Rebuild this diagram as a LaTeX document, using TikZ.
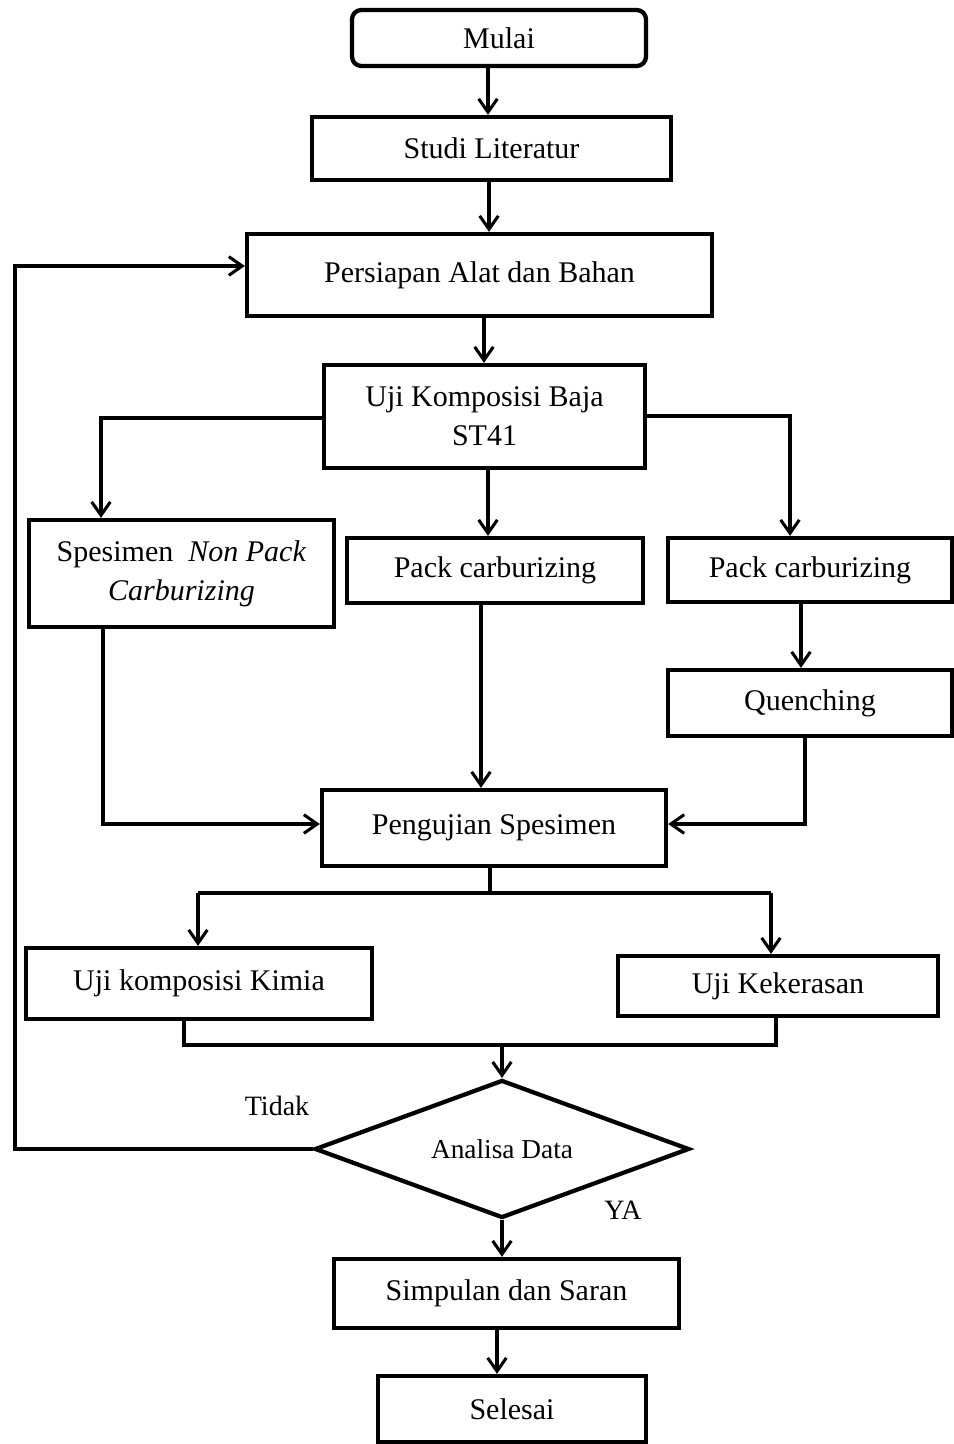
\documentclass[tikz,border=0pt]{standalone}
\usepackage{fontspec}
\setmainfont{Liberation Serif}
\usetikzlibrary{arrows.meta,shapes.geometric}
\begin{document}
\begin{tikzpicture}[x=0.75pt,y=-0.75pt,
 box/.style={draw,line width=3.2pt,rectangle,inner sep=0pt,font=\fontsize{22.5}{29}\selectfont,align=center},
 conn/.style={line width=2.3pt},
 arr/.style={conn,-{Straight Barb[length=10pt,width=14pt,line width=2.3pt]}},
 lbl/.style={font=\fontsize{21}{25}\selectfont,inner sep=0pt}
]
\useasboundingbox (0,0) rectangle (953,1444);
\fill[white] (0,0) rectangle (953,1444);

\node[box,rounded corners=7pt,minimum width=220.5pt,minimum height=42pt] (mulai) at (499,38) {Mulai};
\node[box,minimum width=269.25pt,minimum height=47.25pt] (studi) at (491.5,148.5) {Studi Literatur};
\node[box,minimum width=348.75pt,minimum height=61.5pt] (pers) at (479.5,275) {Persiapan Alat dan Bahan};
\node[box,minimum width=240.75pt,minimum height=77.25pt] (ujik) at (484.5,416.5) {Uji Komposisi Baja\\ST41};
\node[box,minimum width=228.75pt,minimum height=80.25pt] (spes) at (181.5,573.5) {Spesimen \ \textit{Non Pack}\\\textit{Carburizing}};
\node[box,minimum width=222pt,minimum height=48.75pt] (packm) at (495,570.5) {Pack carburizing};
\node[box,minimum width=213pt,minimum height=48pt] (packr) at (810,570) {Pack carburizing};
\node[box,minimum width=213pt,minimum height=49.5pt] (quen) at (810,703) {Quenching};
\node[box,minimum width=258pt,minimum height=57pt] (peng) at (494,828) {Pengujian Spesimen};
\node[box,minimum width=259.5pt,minimum height=53.25pt] (ukk) at (199,983.5) {Uji komposisi Kimia};
\node[box,minimum width=240pt,minimum height=45pt] (uk) at (778,986) {Uji Kekerasan};
\node[box,diamond,aspect=2.7,minimum width=281pt,minimum height=103.5pt,font=\fontsize{20.5}{25}\selectfont] (dia) at (502,1149) {Analisa Data};
\node[box,minimum width=258.75pt,minimum height=51.75pt] (simp) at (506.5,1293.5) {Simpulan dan Saran};
\node[box,minimum width=201pt,minimum height=49.5pt] (sel) at (512,1409) {Selesai};

\node[lbl] (tidak) at (277,1106) {Tidak};
\node[lbl] (ya) at (623,1210) {YA};

\coordinate (a1) at (488,0);
\coordinate (a2) at (489,0);
\coordinate (a3) at (484,0);
\coordinate (a5) at (488,0);
\coordinate (a7) at (801,0);
\coordinate (a8) at (481,0);
\coordinate (a15) at (497,0);
\coordinate (p1) at (101,418);
\coordinate (p2) at (790,416);
\coordinate (p3) at (103,824);
\coordinate (p4) at (805,824);
\coordinate (s0) at (490,893);
\coordinate (s1) at (198,893);
\coordinate (s2) at (771,893);
\coordinate (m1) at (184,1045);
\coordinate (m2) at (776,1045);
\coordinate (m0) at (502,1045);
\coordinate (f1) at (15,1149);
\coordinate (f2) at (15,266);

\draw[arr] (mulai.south -| a1) -- (studi.north -| a1);
\draw[arr] (studi.south -| a2) -- (pers.north -| a2);
\draw[arr] (pers.south -| a3) -- (ujik.north -| a3);
\draw[arr] (ujik.west |- p1) -- (p1) -- (spes.north -| p1);
\draw[arr] (ujik.south -| a5) -- (packm.north -| a5);
\draw[arr] (ujik.east |- p2) -- (p2) -- (packr.north -| p2);
\draw[arr] (packr.south -| a7) -- (quen.north -| a7);
\draw[arr] (packm.south -| a8) -- (peng.north -| a8);
\draw[arr] (spes.south -| p3) -- (p3) -- (peng.west |- p3);
\draw[arr] (quen.south -| p4) -- (p4) -- (peng.east |- p4);
\draw[conn] (peng.south -| s0) -- (s0);
\draw[conn] (s1) -- (s2);
\draw[arr] (s1) -- (ukk.north -| s1);
\draw[arr] (s2) -- (uk.north -| s2);
\draw[conn] (ukk.south -| m1) -- (m1) -- (m2) -- (uk.south -| m2);
\draw[arr] (m0) -- (dia.north);
\draw[arr] (dia.west) -- (f1) -- (f2) -- (pers.west |- f2);
\draw[arr] (dia.south) -- (simp.north -| dia.south);
\draw[arr] (simp.south -| a15) -- (sel.north -| a15);
\end{tikzpicture}
\end{document}
